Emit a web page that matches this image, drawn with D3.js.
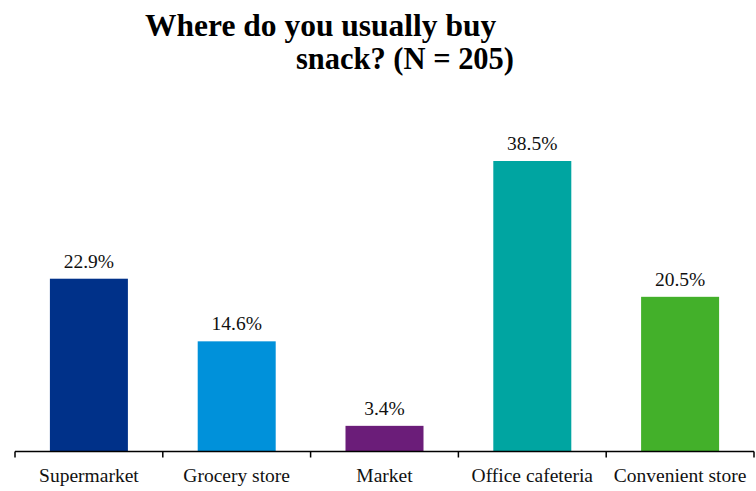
<!DOCTYPE html>
<html>
<head>
<meta charset="utf-8">
<script src="https://cdn.jsdelivr.net/npm/d3@7"></script>
<style>
  html, body { margin: 0; padding: 0; background: #fff; }
  svg { display: block; font-family: "Liberation Serif", "Times New Roman", serif; }
</style>
</head>
<body>
<svg id="chart" width="756" height="491"></svg>
<script>
// Survey answers: where respondents usually buy snacks
const categories = ["Supermarket", "Grocery store", "Market", "Office cafeteria", "Convenient store"];
const shares = [22.9, 14.6, 3.4, 38.5, 20.5];
const barColors = ["#003189", "#0091DA", "#6B1D79", "#00A5A1", "#43B02A"];
const titleLines = ["Where do you usually buy", "snack? (N = 205)"];

const svg = d3.select("#chart");
const baseY = 451.5;

const x = d3.scaleBand()
  .domain(categories)
  .range([15, 754])
  .paddingInner(0)
  .paddingOuter(0);

const y = d3.scaleLinear()
  .domain([0, 38.5])
  .range([baseY, 161]);

const barW = 78;

// Title, two lines of bold serif
svg.append("text")
  .attr("x", 145).attr("y", 36)
  .attr("font-size", 31.5).attr("font-weight", "bold")
  .text(titleLines[0]);
svg.append("text")
  .attr("x", 296).attr("y", 69)
  .attr("textLength", 218).attr("lengthAdjust", "spacingAndGlyphs")
  .attr("font-size", 31.5).attr("font-weight", "bold")
  .text(titleLines[1]);

// Bars
svg.append("g").selectAll("rect")
  .data(shares)
  .join("rect")
  .attr("x", (d, i) => x(categories[i]) + (x.bandwidth() - barW) / 2)
  .attr("y", d => y(d))
  .attr("width", barW)
  .attr("height", d => baseY - y(d))
  .attr("fill", (d, i) => barColors[i]);

// Value labels above bars
svg.append("g").selectAll("text")
  .data(shares)
  .join("text")
  .attr("x", (d, i) => x(categories[i]) + x.bandwidth() / 2)
  .attr("y", d => y(d) - 11)
  .attr("text-anchor", "middle")
  .attr("font-size", 19.5)
  .attr("fill", "#111")
  .text(d => d.toFixed(1) + "%");

// Category axis with ticks at band boundaries
const axis = svg.append("g").attr("transform", `translate(0,${baseY})`);
axis.append("line")
  .attr("x1", x.range()[0]).attr("x2", x.range()[1])
  .attr("stroke", "#000").attr("stroke-width", 1.5);
const edges = categories.map(c => x(c)).concat([x.range()[1]]);
axis.selectAll("line.tick")
  .data(edges)
  .join("line")
  .attr("class", "tick")
  .attr("x1", d => d).attr("x2", d => d)
  .attr("y1", 0).attr("y2", 6)
  .attr("stroke", "#000").attr("stroke-width", 1.5);
axis.selectAll("text")
  .data(categories)
  .join("text")
  .attr("x", d => x(d) + x.bandwidth() / 2)
  .attr("y", 30)
  .attr("text-anchor", "middle")
  .attr("font-size", 19.5)
  .attr("fill", "#111")
  .text(d => d);
</script>
</body>
</html>
